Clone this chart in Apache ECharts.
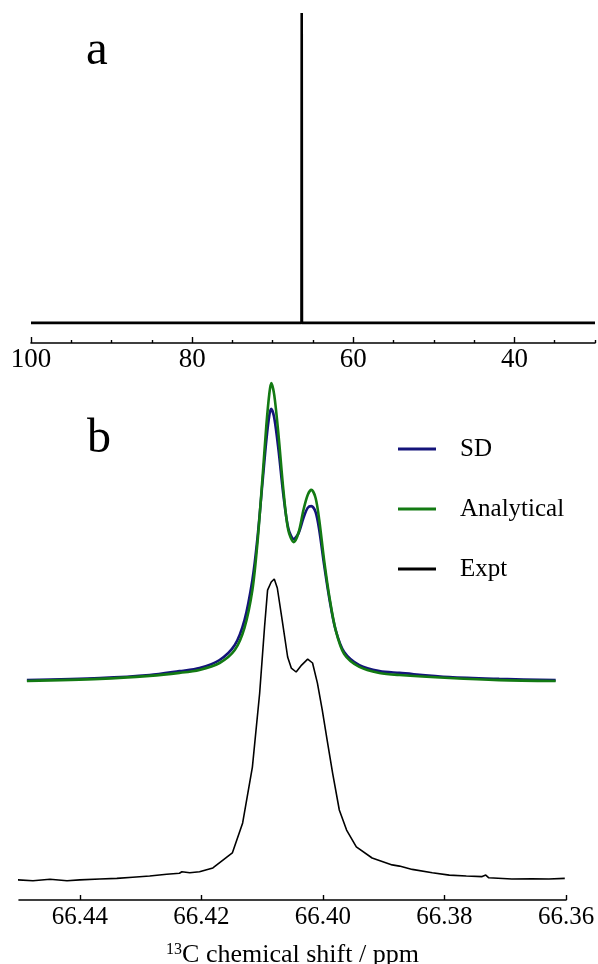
<!DOCTYPE html>
<html>
<head>
<meta charset="utf-8">
<script src="https://cdn.jsdelivr.net/npm/echarts@6/dist/echarts.min.js"></script>
<style>
html,body{margin:0;padding:0;background:#fff;}
#c{width:598px;height:964px;}
</style>
</head>
<body>
<div id="c"></div>
<script>
// ---- Panel a: full 13C spectrum ----
const topShift = [100, 66.43, 66.40, 66.37, 30];
const topIntensity = [0, 0, 100, 0, 0];
const topMajorTicks = [100, 80, 60, 40];
const topMinorTicks = [95, 90, 85, 75, 70, 65, 55, 50, 45, 35, 30];

// ---- Panel b: expanded region ----
const exptShift = [66.4502,66.4477,66.4449,66.4421,66.4400,66.4367,66.4339,66.4313,66.4285,66.4257,66.4236,66.4232,66.4219,66.4203,66.4181,66.4149,66.4132,66.4116,66.4104,66.4096,66.4091,66.4085,66.4080,66.4075,66.4067,66.4058,66.4052,66.4044,66.4035,66.4025,66.4017,66.4009,66.4001,66.3993,66.3984,66.3973,66.3961,66.3945,66.3919,66.3886,66.3874,66.3853,66.3820,66.3792,66.3764,66.3738,66.3732,66.3727,66.3689,66.3656,66.3628,66.3602];
const exptIntensity = [-0.3,-0.6,-0.1,-0.6,-0.3,0,0.2,0.6,1.0,1.6,1.9,2.4,2.1,2.4,3.7,8.7,18.7,37.3,62,84,96.3,99,100,97,86.3,74,70.3,69,71.3,73.3,72,65.3,56.3,46.3,35.3,23,16.3,10.7,7,4.7,4.3,3.2,2.1,1.3,1.0,0.8,1.3,0.4,0,0.1,0,0.2];

const simShift = [66.4487,66.4367,66.4285,66.4236,66.4203,66.4170,66.4145,66.4129,66.4116,66.4108,66.4099,66.4093,66.4088,66.4085,66.4080,66.4073,66.4065,66.4057,66.4048,66.4040,66.4032,66.4025,66.4019,66.4012,66.4006,66.3998,66.3989,66.3979,66.3965,66.3940,66.3907,66.3874,66.3792,66.3710,66.3617];
const sdIntensity = [66.3,67,68,69.3,70.3,73,78,86.3,99.7,113,133,146.3,154.7,156.7,153.7,143,128,117,113.3,115.3,120.3,123.7,124.3,122.3,116.3,104.7,93,83,75.7,71.3,69.3,68.7,67.3,66.7,66.3];
const analyticalIntensity = [66,66.7,67.7,68.7,69.7,72,76.3,83.7,96.3,111.3,134.7,151.3,162,165.3,161.3,148,129.7,116.3,112.3,115.5,123,128,129.7,127,119.7,106.3,93.7,83,75,70.7,68.7,68,67,66.3,66];
const bottomTicks = [66.44, 66.42, 66.40, 66.38, 66.36];

const seriesNames = ['SD', 'Analytical', 'Expt'];
const panelLabels = ['a', 'b'];

function zip(xs, ys) { return xs.map((x, i) => [x, ys[i]]); }

const serif = 'Liberation Serif';
const chart = echarts.init(document.getElementById('c'), null, {renderer: 'canvas'});

chart.setOption({
  backgroundColor: '#ffffff',
  animation: false,
  title: [
    {text: panelLabels[0], left: 86, top: 27, padding: 0,
     textStyle: {fontFamily: serif, fontSize: 49, fontWeight: 'normal', color: '#000'}},
    {text: panelLabels[1], left: 87, top: 415, padding: 0,
     textStyle: {fontFamily: serif, fontSize: 48, fontWeight: 'normal', color: '#000'}}
  ],
  legend: {
    data: seriesNames,
    orient: 'vertical',
    left: 393,
    top: 429,
    icon: 'rect',
    itemWidth: 38,
    itemHeight: 3,
    itemGap: 30,
    textStyle: {fontFamily: serif, fontSize: 25, color: '#000', lineHeight: 30, padding: [0, 0, 0, 19]}
  },
  grid: [
    {left: 31, right: 3, top: 13, height: 330, containLabel: false, outerBoundsMode: 'none'},
    {left: 19, right: 32, top: 369, height: 531, containLabel: false, outerBoundsMode: 'none'}
  ],
  xAxis: [
    {
      type: 'value', gridIndex: 0, position: 'bottom', min: 30, max: 100, inverse: true,
      splitLine: {show: false},
      axisLine: {show: true, onZero: false, lineStyle: {color: '#000', width: 1.6}},
      axisTick: {show: true, inside: true, length: 6, customValues: topMajorTicks, lineStyle: {color: '#000', width: 1.4}},
      axisLabel: {show: true, customValues: topMajorTicks, margin: 3, fontFamily: serif, fontSize: 27, color: '#000',
                  formatter: v => String(v)}
    },
    {
      type: 'value', gridIndex: 0, position: 'bottom', offset: 0, min: 30, max: 100, inverse: true,
      splitLine: {show: false},
      axisLine: {show: false, onZero: false},
      axisTick: {show: true, inside: true, length: 3, customValues: topMinorTicks, lineStyle: {color: '#000', width: 1.4}},
      axisLabel: {show: false}
    },
    {
      type: 'value', gridIndex: 1, position: 'bottom', min: 66.36, max: 66.45, inverse: true,
      splitLine: {show: false},
      axisLine: {show: true, onZero: false, lineStyle: {color: '#000', width: 1.6}},
      axisTick: {show: true, inside: true, length: 5, customValues: bottomTicks, lineStyle: {color: '#000', width: 1.4}},
      axisLabel: {show: true, customValues: bottomTicks, margin: 5, fontFamily: serif, fontSize: 25, color: '#000',
                  formatter: v => v.toFixed(2)},
      name: '{sup|13}{n|C chemical shift / ppm}',
      nameLocation: 'middle',
      nameGap: 42,
      nameTextStyle: {
        fontFamily: serif, color: '#000',
        rich: {
          sup: {fontFamily: serif, fontSize: 16, color: '#000', verticalAlign: 'top', lineHeight: 26},
          n: {fontFamily: serif, fontSize: 26, color: '#000', lineHeight: 26}
        }
      }
    }
  ],
  yAxis: [
    {type: 'value', gridIndex: 0, min: -6.5, max: 100, show: false, splitLine: {show: false}},
    {type: 'value', gridIndex: 1, min: -7, max: 170, show: false, splitLine: {show: false}}
  ],
  series: [
    {
      name: 'spectrum', type: 'line', xAxisIndex: 0, yAxisIndex: 0,
      data: zip(topShift, topIntensity), showSymbol: false, symbol: 'none',
      lineStyle: {color: '#000', width: 2.6}, z: 3
    },
    {
      name: seriesNames[0], type: 'line', xAxisIndex: 2, yAxisIndex: 1,
      data: zip(simShift, sdIntensity), showSymbol: false, symbol: 'none', smooth: 0.3,
      itemStyle: {color: '#14147a'},
      lineStyle: {color: '#14147a', width: 2.6}
    },
    {
      name: seriesNames[1], type: 'line', xAxisIndex: 2, yAxisIndex: 1,
      data: zip(simShift, analyticalIntensity), showSymbol: false, symbol: 'none', smooth: 0.3,
      itemStyle: {color: '#137a13'},
      lineStyle: {color: '#137a13', width: 2.6}
    },
    {
      name: seriesNames[2], type: 'line', xAxisIndex: 2, yAxisIndex: 1,
      data: zip(exptShift, exptIntensity), showSymbol: false, symbol: 'none',
      itemStyle: {color: '#000'},
      lineStyle: {color: '#000', width: 1.6}
    }
  ]
});
</script>
</body>
</html>
